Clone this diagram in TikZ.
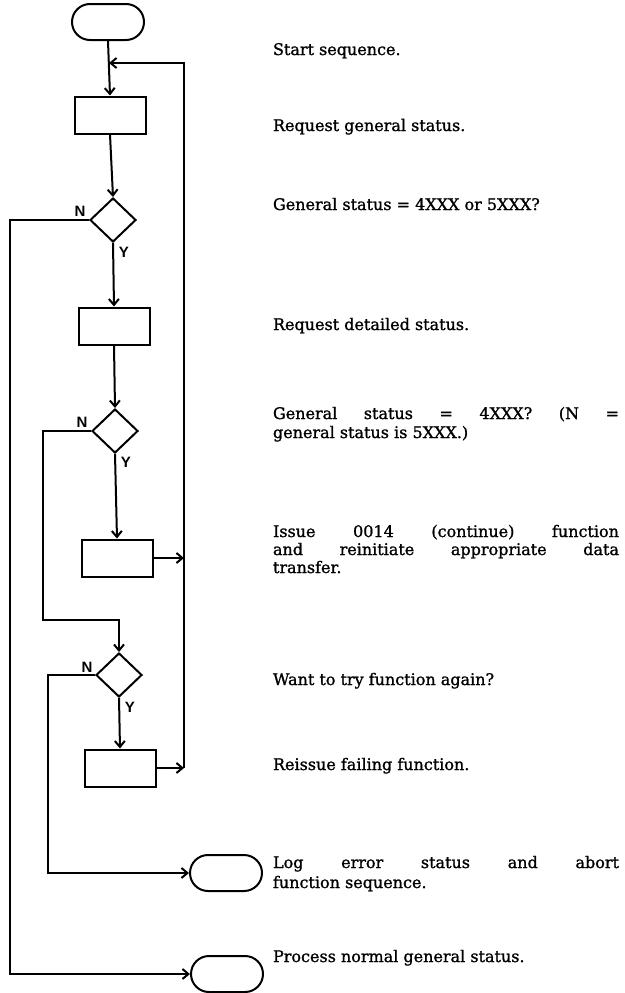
\documentclass[tikz,border=0pt]{standalone}
\usepackage{fontspec}
\setmainfont{DejaVu Serif}[FakeBold=1.2]
\newfontfamily\lblfont{Liberation Sans}
\usetikzlibrary{shapes.geometric,arrows.meta}
\begin{document}
\begin{tikzpicture}[x=1pt,y=-1pt,
  line width=2pt,
  procbox/.style={draw, rectangle, minimum width=71pt, minimum height=37pt, inner sep=0pt},
  termbox/.style={draw, rectangle, rounded corners=18pt, minimum width=72pt, minimum height=36pt, inner sep=0pt},
  decbox/.style={draw, diamond, minimum width=46pt, minimum height=44pt, inner sep=0pt},
  arr/.style={-{Straight Barb[length=6pt,width=10pt]}},
  desc/.style={anchor=base west, inner sep=0pt, font=\fontsize{16}{19}\selectfont},
  yn/.style={font=\lblfont\bfseries\fontsize{15}{15}\selectfont, inner sep=0pt}]
\useasboundingbox (0,0) rectangle (624,993);

% shapes
\node[termbox] (start) at (108,22) {};
\node[procbox] (b1) at (110,115) {};
\node[decbox] (d1) at (113,220) {};
\node[procbox] (b2) at (114,326) {};
\node[decbox] (d2) at (115,431) {};
\node[procbox] (b3) at (117,558) {};
\node[decbox] (d3) at (119,675) {};
\node[procbox] (b4) at (120,768) {};
\node[termbox] (t1) at (226,873) {};
\node[termbox] (t2) at (227,974) {};

% helper coordinates
\coordinate (join) at (109,63);
\coordinate (ltop) at (184,63);
\coordinate (lbot) at (184,768);
\coordinate (nl1) at (10,220);
\coordinate (nl2) at (43,431);
\coordinate (nl2b) at (43,620);
\coordinate (nl3) at (48,675);

% connectors
\draw[arr] (start.south) -- (b1.north);
\draw[arr] (lbot) -- (ltop) -- (join);
\draw[arr] (b1.south) -- (d1.north);
\draw[arr] (d1.south) -- (b2.north);
\draw[arr] (b2.south) -- (d2.north);
\draw[arr] (d2.south) -- (b3.north);
\draw[arr] (b3.east) -- (b3.east -| ltop);
\draw[arr] (d3.south) -- (b4.north);
\draw[arr] (b4.east) -- (b4.east -| ltop);
\draw[arr] (d1.west) -- (nl1) |- (t2.west);
\draw[arr] (d2.west) -- (nl2) -- (nl2b) -| (d3.north);
\draw[arr] (d3.west) -- (nl3) |- (t1.west);

% Y/N labels
\node[yn] (n1) at (80,211) {N};
\node[yn] (y1) at (124,252) {Y};
\node[yn] (n2) at (82,422) {N};
\node[yn] (y2) at (126,462) {Y};
\node[yn] (n3) at (87,667) {N};
\node[yn] (y3) at (130,707) {Y};

% descriptions
\node[desc] (tx1) at (272,55) {Start sequence.};
\node[desc] (tx2) at (272,131) {Request general status.};
\node[desc] (tx3) at (272,210) {General status = 4XXX or 5XXX?};
\node[desc] (tx4) at (272,330) {Request detailed status.};
\node[desc] (tx5a) at (272,419) {\makebox[346pt][s]{General status = 4XXX? (N =}};
\node[desc] (tx5b) at (272,438) {general status is 5XXX.)};
\node[desc] (tx6a) at (272,537) {\makebox[346pt][s]{Issue 0014 (continue) function}};
\node[desc] (tx6b) at (272,555) {\makebox[346pt][s]{and reinitiate appropriate data}};
\node[desc] (tx6c) at (272,573) {transfer.};
\node[desc] (tx7) at (272,685) {Want to try function again?};
\node[desc] (tx8) at (272,770) {Reissue failing function.};
\node[desc] (tx9a) at (272,868) {\makebox[346pt][s]{Log error status and abort}};
\node[desc] (tx9b) at (272,888) {function sequence.};
\node[desc] (tx10) at (272,962) {Process normal general status.};
\end{tikzpicture}
\end{document}
